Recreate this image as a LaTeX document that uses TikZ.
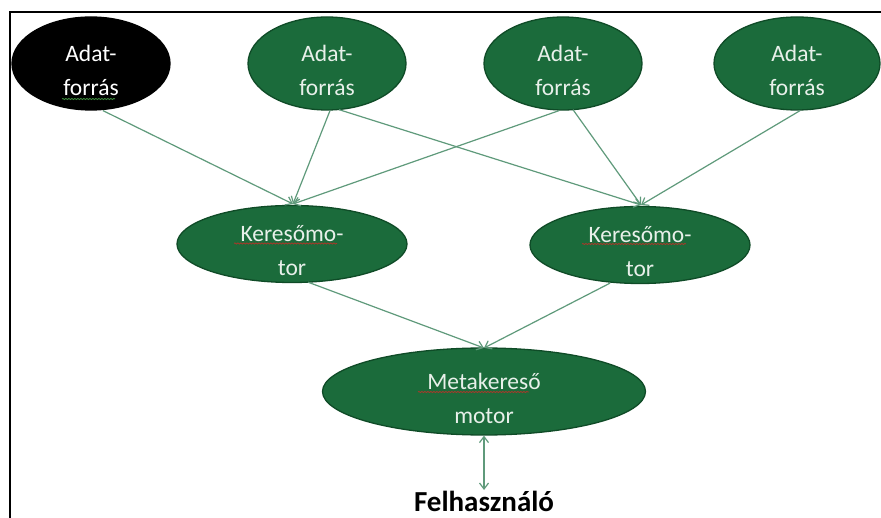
\documentclass[tikz,border=0pt]{standalone}
\usepackage{fontspec}
\setmainfont{Carlito}
\usetikzlibrary{arrows.meta,shapes.geometric,decorations.pathmorphing}
\definecolor{nodegreen}{HTML}{1B6B3B}
\definecolor{nodeedge}{HTML}{0F4B27}
\definecolor{nodetext}{HTML}{E8F0EA}
\definecolor{linkgreen}{HTML}{5F9A7B}
\definecolor{spellred}{HTML}{A33A2A}
\definecolor{spellgreen}{HTML}{3C8A3C}
\tikzset{
  blob/.style={ellipse, draw=nodeedge, line width=1.3pt, fill=nodegreen, inner sep=0pt},
  darkblob/.style={ellipse, draw=black, line width=1.3pt, fill=black, inner sep=0pt},
  label text/.style={text=nodetext, font=\fontsize{23.5}{34}\selectfont, align=center, inner sep=0pt},
  link/.style={draw=linkgreen, line width=1.2pt, -{Straight Barb[length=6pt,width=9pt]}},
  twolink/.style={draw=linkgreen, line width=1.2pt, {Straight Barb[length=6pt,width=9pt]}-{Straight Barb[length=6pt,width=9pt]}},
  squiggle/.style={line width=0.8pt, decorate, decoration={snake, amplitude=0.6pt, segment length=3pt}},
  frameline/.style={draw=black, line width=2pt}
}
\begin{document}
\begin{tikzpicture}[x=1pt, y=-1pt]
\useasboundingbox (0,0) rectangle (881,518);
\fill[white] (0,0) rectangle (881,518);

% outer frame (top and left edges)
\draw[frameline] (10,518) -- (10,12.5) -- (881,12.5);

% data sources
\node[darkblob, minimum width=158pt, minimum height=93pt] (s1) at (91,63.5) {};
\node[blob, minimum width=158pt, minimum height=93pt] (s2) at (327,63.5) {};
\node[blob, minimum width=158pt, minimum height=93pt] (s3) at (563,63.5) {};
\node[blob, minimum width=166pt, minimum height=93pt] (s4) at (797,63.5) {};

% search engines
\node[blob, minimum width=230pt, minimum height=77pt] (k1) at (292,244) {};
\node[blob, minimum width=220pt, minimum height=77pt] (k2) at (640,245) {};

% meta search engine
\node[blob, minimum width=323pt, minimum height=87pt] (m) at (484,391.5) {};

% labels (set slightly below the ellipse centres)
\node[label text, text=white] (t1) at ([yshift=-7pt]s1.center) {Adat-\\forrás};
\node[label text] (t2) at ([yshift=-7pt]s2.center) {Adat-\\forrás};
\node[label text] (t3) at ([yshift=-7pt]s3.center) {Adat-\\forrás};
\node[label text] (t4) at ([yshift=-7pt]s4.center) {Adat-\\forrás};
\node[label text] (tk1) at ([yshift=-7pt]k1.center) {Keresőmo-\\tor};
\node[label text] (tk2) at ([yshift=-7pt]k2.center) {Keresőmo-\\tor};
\node[label text] (tm) at ([yshift=-7pt]m.center) {Metakereső\\motor};

% spell-check underlines
\draw[squiggle, draw=spellgreen] (62,99) -- (115,99);
\draw[squiggle, draw=spellred] (234,243.5) -- (337,243.5);
\draw[squiggle, draw=spellred] (582,244) -- (686,244);
\draw[squiggle, draw=spellred] (418,392) -- (529,392);

% user
\node[font=\fontsize{29}{34}\selectfont\bfseries, inner sep=0pt, anchor=base] (u) at (484,511) {Felhasználó};

% source -> engine links
\coordinate (k1in) at (293,204);
\coordinate (k2in) at (641,205);
\draw[link] ([xshift=12pt]s1.south) -- (k1in);
\draw[link] ([xshift=3pt]s2.south) -- (k1in);
\draw[link] ([xshift=12pt,yshift=1pt]s2.south) -- (k2in);
\draw[link] ([xshift=-4pt]s3.south) -- (k1in);
\draw[link] ([xshift=10pt,yshift=1pt]s3.south) -- (k2in);
\draw[link] ([xshift=3pt]s4.south) -- (k2in);

% engine -> meta links
\coordinate (min) at (484,348);
\draw[link] ([xshift=16pt,yshift=1pt]k1.south) -- (min);
\draw[link] ([xshift=-30pt,yshift=1pt]k2.south) -- (min);

% meta <-> user
\coordinate (uin) at (484,490);
\draw[twolink] (m.south) -- (uin);
\end{tikzpicture}
\end{document}
